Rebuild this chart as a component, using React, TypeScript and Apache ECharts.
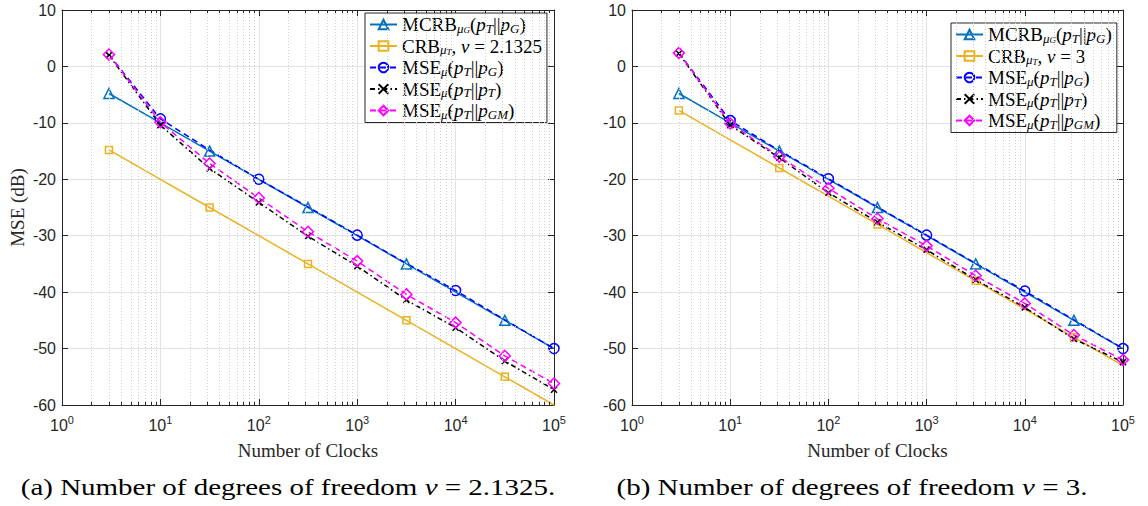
import React, { useEffect, useRef } from "react";
import * as echarts from "echarts";

// Number of clocks (x values)
const clocks = [3, 10, 31.62, 100, 316.2, 1000, 3162, 10000, 31623, 100000];

// Panel (a): nu = 2.1325
const mcrbA = [-4.8, -10, -15, -20, -25, -30, -35, -40, -45, -50];
const crbA = [-14.8, -20, -25, -30, -35, -40, -45, -50, -55, -60];
const mseGA = [2.1, -9.3, -14.8, -20, -24.9, -29.9, -34.9, -39.7, -44.9, -50];
const mseTA = [2.0, -10.4, -18.1, -24.1, -30.1, -35.4, -41.4, -46.3, -52.2, -57.3];
const mseGMA = [2.1, -9.9, -17.2, -23.3, -29.3, -34.5, -40.4, -45.4, -51.3, -56.2];

// Panel (b): nu = 3
const mcrbB = [-4.8, -10, -15, -20, -25, -30, -35, -40, -45, -50];
const crbB = [-7.8, -13, -18, -23, -28, -33, -38, -43, -48, -53];
const mseGB = [2.4, -9.6, -14.9, -19.9, -24.9, -29.9, -34.9, -39.8, -44.9, -50];
const mseTB = [2.3, -10.4, -16.2, -22.4, -27.6, -32.5, -37.8, -42.7, -48.3, -52.4];
const mseGMB = [2.4, -10.1, -16.0, -21.6, -27.0, -31.8, -37.1, -42.0, -47.6, -52.0];

// marker placement (indices carrying a marker)
const evenIdx = [0, 2, 4, 6, 8];
const oddIdx = [1, 3, 5, 7, 9];
const allIdx = [0, 1, 2, 3, 4, 5, 6, 7, 8, 9];

// axis ticks
const xMin = 1;
const xMax = 100000;
const yMin = -60;
const yMax = 10;
const yStep = 10;
const decades = [1, 10, 100, 1000, 10000];
const minorMult = [2, 3, 4, 5, 6, 7, 8, 9];

const captionA = "(a) Number of degrees of freedom {i|ν} = 2.1325.";
const captionB = "(b) Number of degrees of freedom {i|ν} = 3.";

const SERIF = "'Liberation Serif', 'Times New Roman', serif";
const SANS = "'Liberation Sans', Arial, Helvetica, sans-serif";
const AXC = "#262626";

const C_MCRB = "#0072BD";
const C_CRB = "#EDB120";
const C_G = "#0000FF";
const C_T = "#000000";
const C_GM = "#FF00FF";

const xPath = "path://M0,0L10,10M10,0L0,10";

const legendRich = {
  n: { fontFamily: SERIF, fontSize: 19, lineHeight: 20, color: "#000" },
  i: { fontFamily: SERIF, fontSize: 19, lineHeight: 20, fontStyle: "italic", color: "#000" },
  si: { fontFamily: SERIF, fontSize: 13, lineHeight: 12, verticalAlign: "bottom", fontStyle: "italic", color: "#000" },
  ssi: { fontFamily: SERIF, fontSize: 9, lineHeight: 8, verticalAlign: "bottom", fontStyle: "italic", color: "#000" },
};

const legendText: Record<string, string> = {
  MCRB: "{n|MCRB}{si|μ}{ssi|G}{n|(}{i|p}{si|T}{n|||}{i|p}{si|G}{n|)}",
  "CRB a": "{n|CRB}{si|μ}{ssi|T}{n|, }{i|ν}{n| = 2.1325}",
  "CRB b": "{n|CRB}{si|μ}{ssi|T}{n|, }{i|ν}{n| = 3}",
  "MSE G": "{n|MSE}{si|μ̂}{n|(}{i|p}{si|T}{n|||}{i|p}{si|G}{n|)}",
  "MSE T": "{n|MSE}{si|μ̂}{n|(}{i|p}{si|T}{n|||}{i|p}{si|T}{n|)}",
  "MSE GM": "{n|MSE}{si|μ̂}{n|(}{i|p}{si|T}{n|||}{i|p}{si|GM}{n|)}",
};

function mkSeries(
  name: string,
  ys: number[],
  color: string,
  symbol: string,
  symbolSize: number,
  marks: number[],
  lineType: any,
  gi: number
) {
  return {
    name,
    type: "line",
    xAxisIndex: gi * 2,
    yAxisIndex: gi * 2,
    symbol,
    symbolSize,
    showSymbol: true,
    showAllSymbol: true,
    z: 3,
    lineStyle: { color, width: 1.5, type: lineType },
    itemStyle: { color: "rgba(255,255,255,0)", borderColor: color, borderWidth: 1.5 },
    emphasis: { disabled: true },
    data: clocks.map((x, k) =>
      marks.indexOf(k) >= 0 ? { value: [x, ys[k]] } : { value: [x, ys[k]], symbol: "none" }
    ),
  };
}

function minorValues() {
  const out: number[] = [];
  decades.forEach((d) => minorMult.forEach((m) => out.push(d * m)));
  return out;
}

function gridHelper(gi: number) {
  const minor = minorValues();
  const ticks: any[] = [];
  minor.forEach((v) => {
    ticks.push([{ coord: [v, yMin] }, { coord: [v, yMin + 0.55] }]);
    ticks.push([{ coord: [v, yMax] }, { coord: [v, yMax - 0.55] }]);
  });
  return [
    {
      name: "minorGrid" + gi,
      type: "line",
      xAxisIndex: gi * 2,
      yAxisIndex: gi * 2,
      data: [],
      z: 1,
      silent: true,
      markLine: {
        silent: true,
        symbol: ["none", "none"],
        label: { show: false },
        emphasis: { disabled: true },
        lineStyle: { color: "#cfcfcf", width: 1, type: [1, 2] },
        data: minor.map((v) => ({ xAxis: v })),
      },
    },
    {
      name: "minorTick" + gi,
      type: "line",
      xAxisIndex: gi * 2,
      yAxisIndex: gi * 2,
      data: [],
      z: 4,
      silent: true,
      markLine: {
        silent: true,
        symbol: ["none", "none"],
        label: { show: false },
        emphasis: { disabled: true },
        lineStyle: { color: AXC, width: 1, type: "solid" },
        data: ticks,
      },
    },
  ];
}

function xAxes(gi: number) {
  const base = {
    type: "log",
    logBase: 10,
    min: xMin,
    max: xMax,
    gridIndex: gi,
    axisLine: { show: true, onZero: false, lineStyle: { color: AXC, width: 1 } },
    axisTick: { show: true, inside: true, length: 6, lineStyle: { color: AXC } },
  };
  return [
    {
      ...base,
      position: "bottom",
      name: "Number of Clocks",
      nameLocation: "middle",
      nameGap: 36,
      nameTextStyle: { fontFamily: SERIF, fontSize: 19, color: AXC },
      splitLine: { show: true, lineStyle: { color: "#e3e3e3", width: 1 } },
      axisLabel: {
        margin: 9,
        formatter: (v: number) => "{b|10}{s|" + Math.round(Math.log10(v)) + "}",
        rich: {
          b: { fontFamily: SANS, fontSize: 16, lineHeight: 22, color: AXC },
          s: { fontFamily: SANS, fontSize: 11, lineHeight: 12, verticalAlign: "top", color: AXC },
        },
      },
    },
    {
      ...base,
      position: "top",
      splitLine: { show: false },
      axisLabel: { show: false },
    },
  ];
}

function yAxes(gi: number) {
  const base = {
    type: "value",
    min: yMin,
    max: yMax,
    interval: yStep,
    gridIndex: gi,
    axisLine: { show: true, onZero: false, lineStyle: { color: AXC, width: 1 } },
    axisTick: { show: true, inside: true, length: 6, lineStyle: { color: AXC } },
  };
  return [
    {
      ...base,
      position: "left",
      name: gi === 0 ? "MSE (dB)" : "",
      nameLocation: "middle",
      nameGap: 35,
      nameTextStyle: { fontFamily: SERIF, fontSize: 19, color: AXC },
      splitLine: { show: true, lineStyle: { color: "#e3e3e3", width: 1 } },
      axisLabel: { margin: 6, fontFamily: SANS, fontSize: 16, color: AXC },
    },
    {
      ...base,
      position: "right",
      splitLine: { show: false },
      axisLabel: { show: false },
    },
  ];
}

function legendFor(names: string[], left: number, top: number) {
  return {
    orient: "vertical",
    left,
    top,
    data: names,
    itemWidth: 27,
    itemHeight: 12,
    itemGap: 2,
    padding: [2, 5, 2, 4],
    backgroundColor: "#fff",
    borderColor: AXC,
    borderWidth: 1,
    selectedMode: false,
    formatter: (n: string) => legendText[n] || n,
    textStyle: { fontFamily: SERIF, fontSize: 19, color: "#000", rich: legendRich },
  };
}

function caption(text: string, x: number) {
  return {
    type: "text",
    x,
    y: 488,
    scaleX: 1.26,
    style: {
      text,
      fontFamily: SERIF,
      fontSize: 23,
      fill: "#000",
      align: "center",
      verticalAlign: "middle",
      rich: { i: { fontFamily: SERIF, fontSize: 23, fontStyle: "italic", fill: "#000" } },
    },
  };
}

export default function App() {
  const ref = useRef<HTMLDivElement>(null);
  useEffect(() => {
    if (!ref.current) return;
    const chart = echarts.init(ref.current, undefined, { renderer: "svg" });
    const series: any[] = [
      ...gridHelper(0),
      ...gridHelper(1),
      mkSeries("MCRB", mcrbA, C_MCRB, "triangle", 10, evenIdx, "solid", 0),
      mkSeries("CRB a", crbA, C_CRB, "rect", 7, evenIdx, "solid", 0),
      mkSeries("MSE G", mseGA, C_G, "circle", 10, oddIdx, [6, 4], 0),
      mkSeries("MSE T", mseTA, C_T, xPath, 6, allIdx, [5, 3, 1.5, 3], 0),
      mkSeries("MSE GM", mseGMA, C_GM, "diamond", 11, allIdx, [6, 4], 0),
      mkSeries("MCRB", mcrbB, C_MCRB, "triangle", 10, evenIdx, "solid", 1),
      mkSeries("CRB b", crbB, C_CRB, "rect", 7, evenIdx, "solid", 1),
      mkSeries("MSE G", mseGB, C_G, "circle", 10, oddIdx, [6, 4], 1),
      mkSeries("MSE T", mseTB, C_T, xPath, 6, allIdx, [5, 3, 1.5, 3], 1),
      mkSeries("MSE GM", mseGMB, C_GM, "diamond", 11, allIdx, [6, 4], 1),
    ];
    chart.setOption({
      animation: false,
      backgroundColor: "#fff",
      grid: [
        { left: 62, top: 10, width: 492, height: 395 },
        { left: 632, top: 10, width: 491, height: 395 },
      ],
      xAxis: [...xAxes(0), ...xAxes(1)],
      yAxis: [...yAxes(0), ...yAxes(1)],
      legend: [
        legendFor(["MCRB", "CRB a", "MSE G", "MSE T", "MSE GM"], 365, 13),
        legendFor(["MCRB", "CRB b", "MSE G", "MSE T", "MSE GM"], 951, 23),
      ],
      graphic: [caption(captionA, 288), caption(captionB, 852)],
      series,
    });
    return () => chart.dispose();
  }, []);
  return (
    <div
      ref={ref}
      style={{ position: "absolute", left: 0, top: 0, width: 1148, height: 506 }}
    />
  );
}
